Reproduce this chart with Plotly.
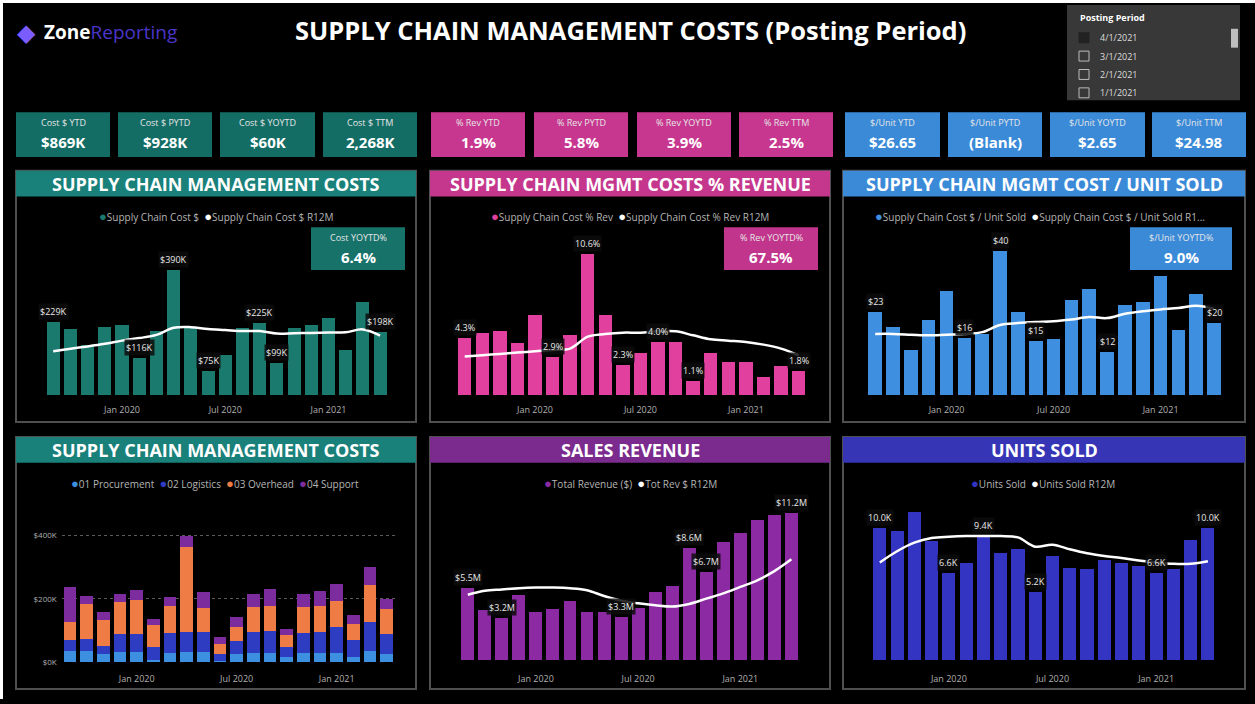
import plotly.graph_objects as go

W, H = 1255, 704

# ---------------- data ----------------
months = ["Sep 2019", "Oct 2019", "Nov 2019", "Dec 2019", "Jan 2020", "Feb 2020", "Mar 2020",
          "Apr 2020", "May 2020", "Jun 2020", "Jul 2020", "Aug 2020", "Sep 2020", "Oct 2020",
          "Nov 2020", "Dec 2020", "Jan 2021", "Feb 2021", "Mar 2021", "Apr 2021"]
tick_months = ["Jan 2020", "Jul 2020", "Jan 2021"]

cost_k = [229, 205, 155, 212, 218, 116, 200, 390, 212, 75, 125, 208, 225, 99, 208, 220, 240, 142, 290, 198]
cost_r12m_k = [137, 145, 152, 160, 170, 178, 188, 210, 212, 206, 203, 200, 200, 192, 193, 194, 195, 196, 205, 186]
cost_label_idx = [0, 5, 7, 9, 12, 13, 19]

pct_rev = [4.3, 4.7, 4.8, 3.9, 6.0, 2.9, 4.5, 10.6, 6.0, 2.3, 3.2, 4.0, 4.0, 1.1, 3.2, 2.5, 2.5, 1.4, 2.2, 1.8]
pct_rev_r12m = [2.9, 3.0, 3.1, 3.2, 3.3, 3.4, 3.5, 4.4, 4.6, 4.7, 4.7, 4.8, 4.8, 4.5, 4.2, 4.1, 4.0, 3.8, 3.5, 3.0]
pct_label_idx = [0, 5, 7, 9, 11, 13, 19]

cost_per_unit = [23, 19, 12.4, 20.8, 29, 16, 17, 40, 23, 15, 15.6, 26.5, 29.5, 12, 25, 26, 33, 18, 28, 20]
cost_per_unit_r12m = [17.0, 17.0, 16.8, 16.6, 16.8, 17.0, 17.5, 19.5, 20.0, 20.3, 20.5, 21.0, 21.7, 21.4,
                      22.6, 23.3, 23.8, 24.2, 24.8, 24.0]
cpu_label_idx = [0, 5, 7, 9, 13, 19]

procurement_k = [37, 37, 26, 32, 32, 8, 28, 32, 32, 5, 26, 28, 28, 16, 28, 28, 28, 16, 37, 26]
logistics_k = [32, 37, 26, 58, 58, 40, 63, 63, 63, 21, 42, 66, 71, 32, 63, 66, 82, 53, 90, 63]
overhead_k = [58, 110, 81, 100, 105, 68, 87, 268, 77, 32, 42, 79, 79, 37, 82, 84, 82, 53, 116, 79]
support_k = [111, 26, 24, 26, 32, 21, 26, 34, 50, 23, 32, 42, 53, 21, 42, 47, 55, 26, 56, 32]
stack_names = ["01 Procurement", "02 Logistics", "03 Overhead", "04 Support"]

revenue_m = [5.5, 3.8, 3.2, 5.0, 3.7, 3.9, 4.5, 3.7, 3.7, 3.3, 4.0, 5.2, 5.7, 8.6, 6.7, 9.0, 9.7, 10.7, 11.1, 11.2]
revenue_r12m_m = [5.0, 5.3, 5.4, 5.5, 5.55, 5.55, 5.5, 5.35, 4.9, 4.55, 4.35, 4.2, 4.1, 4.3, 4.7, 5.1,
                  5.6, 6.1, 6.8, 7.7]
rev_label_idx = [0, 2, 9, 13, 14, 19]

units_k = [10.0, 9.75, 11.25, 9.0, 6.6, 7.4, 9.4, 8.1, 8.4, 5.2, 7.9, 7.0, 6.9, 7.6, 7.4, 7.1, 6.6, 6.9, 9.1, 10.0]
units_r12m_k = [7.4, 8.25, 8.9, 9.25, 9.35, 9.4, 9.4, 9.4, 9.3, 8.6, 8.75, 8.4, 8.1, 7.9, 7.75, 7.55,
                7.4, 7.3, 7.3, 7.5]
units_label_idx = [0, 4, 6, 9, 16, 19]

kpi_teal = [("Cost $ YTD", "$869K"), ("Cost $ PYTD", "$928K"), ("Cost $ YOYTD", "$60K"), ("Cost $ TTM", "2,268K")]
kpi_pink = [("% Rev YTD", "1.9%"), ("% Rev PYTD", "5.8%"), ("% Rev YOYTD", "3.9%"), ("% Rev TTM", "2.5%")]
kpi_blue = [("$/Unit YTD", "$26.65"), ("$/Unit PYTD", "(Blank)"), ("$/Unit YOYTD", "$2.65"), ("$/Unit TTM", "$24.98")]
slicer_items = ["4/1/2021", "3/1/2021", "2/1/2021", "1/1/2021"]

# ---------------- styles ----------------
FONT = "Open Sans"
TEAL_HDR, TEAL_BAR, TEAL_CARD = "#19807a", "#1b7a6e", "#146d65"
PINK_HDR, PINK_BAR, PINK_CARD = "#c4378d", "#e2409e", "#c8378f"
BLUE_HDR, BLUE_BAR, BLUE_CARD = "#3b8ad8", "#3f8fe0", "#3a8ad8"
PURP_HDR, PURP_BAR = "#7b2a8e", "#8b2aa3"
DBLU_HDR, DBLU_BAR = "#3535b5", "#3434c2"
STACK_COLORS = ["#3d8fe0", "#2d3cc0", "#f07c45", "#7c2c9c"]


def fx(x):
    return x / W


def fy(y):
    return 1 - y / H


shapes = []
ann = []


def rect(x0, y0, x1, y1, fill="rgba(0,0,0,0)", line=None, lw=0):
    shapes.append(dict(type="rect", xref="paper", yref="paper", x0=fx(x0), x1=fx(x1), y0=fy(y1), y1=fy(y0),
                       fillcolor=fill, line=dict(color=line or "rgba(0,0,0,0)", width=lw), layer="below"))


def text(x, y, t, size=10, color="white", bold=False, xa="center", ya="middle", **kw):
    if bold:
        t = "<b>" + t + "</b>"
    ann.append(dict(xref="paper", yref="paper", x=fx(x), y=fy(y), text=t, showarrow=False,
                    xanchor=xa, yanchor=ya, font=dict(family=FONT, size=size, color=color), **kw))


# thin white frame at top/left
rect(0, 0, W, 3, fill="white")
rect(0, 0, 3, H, fill="white")

# logo
text(26, 32, "◆", size=24, color="#7b5cff")
text(42, 32, "<b>Zone</b><span style='color:#4b35c8'>Reporting</span>", size=19, xa="left")

# title
text(630, 30, "SUPPLY CHAIN MANAGEMENT COSTS (Posting Period)", size=25.5, bold=True)

# slicer
rect(1067, 5, 1240, 101, fill="#383838")
text(1078, 18, "Posting Period", size=9, bold=True, xa="left")
for i, s in enumerate(slicer_items):
    yy = 38 + i * 18.5
    rect(1079, yy - 5, 1089, yy + 5, fill="#222222" if i == 0 else "rgba(0,0,0,0)", line="#bbbbbb" if i else "#222222", lw=1)
    text(1098, yy, s, size=9, color="#dddddd", xa="left")
rect(1231, 29, 1238, 48, fill="#bfbfbf")

# KPI cards
def cards(xs, items, fill):
    for (x0, x1), (lab, val) in zip(xs, items):
        rect(x0, 113, x1, 158, fill=fill)
        text((x0 + x1) / 2, 123, lab, size=9, color="#e6e6e6")
        text((x0 + x1) / 2, 143, val, size=15, bold=True)


cards([(16, 110), (118, 212), (220, 315), (323, 417)], kpi_teal, TEAL_CARD)
cards([(431, 525), (534, 628), (637, 731), (739, 833)], kpi_pink, PINK_CARD)
cards([(845, 940), (948, 1042), (1050, 1145), (1152, 1246)], kpi_blue, BLUE_CARD)

# panels
panels = [
    (16, 416, 172, 425, TEAL_HDR, "SUPPLY CHAIN MANAGEMENT COSTS"),
    (430, 830, 172, 425, PINK_HDR, "SUPPLY CHAIN MGMT COSTS % REVENUE"),
    (843, 1245, 172, 425, BLUE_HDR, "SUPPLY CHAIN MGMT COST / UNIT SOLD"),
    (16, 416, 440, 694, TEAL_HDR, "SUPPLY CHAIN MANAGEMENT COSTS"),
    (430, 830, 440, 694, PURP_HDR, "SALES REVENUE"),
    (843, 1245, 440, 694, DBLU_HDR, "UNITS SOLD"),
]
for x0, x1, y0, y1, col, title in panels:
    rect(x0, y0, x1, y1, line="#4f4f4f", lw=2)
    rect(x0, y0, x1, y0 + 26, fill=col)
    text((x0 + x1) / 2, y0 + 13, title, size=18, bold=True)


def dot(c):
    return "<span style='color:%s;font-size:13px'>●</span>" % c


def legend(x, y, items):
    parts = [dot(c) + n for c, n in items]
    text(x, y, "  ".join(parts), size=10, color="#b5b5b5")


legend(216, 218, [(TEAL_BAR, "Supply Chain Cost $"), ("white", "Supply Chain Cost $ R12M")])
legend(630, 218, [(PINK_BAR, "Supply Chain Cost % Rev"), ("white", "Supply Chain Cost % Rev R12M")])
legend(1040, 218, [(BLUE_BAR, "Supply Chain Cost $ / Unit Sold"), ("white", "Supply Chain Cost $ / Unit Sold R1...")])
legend(215, 486, list(zip(STACK_COLORS, stack_names)))
legend(630, 486, [(PURP_BAR, "Total Revenue ($)"), ("white", "Tot Rev $ R12M")])
legend(1043, 486, [(DBLU_BAR, "Units Sold"), ("white", "Units Sold R12M")])

# in-chart KPI boxes
for x0, x1, col, lab, val in [(311, 405, "#17726a", "Cost YOYTD%", "6.4%"),
                              (724, 818, "#c2358c", "% Rev YOYTD%", "67.5%"),
                              (1130, 1232, "#3a8ad8", "$/Unit YOYTD%", "9.0%")]:
    rect(x0, 229, x1, 272, fill=col)
    text((x0 + x1) / 2, 239, lab, size=9, color="#e6e6e6")
    text((x0 + x1) / 2, 259, val, size=15, bold=True)

# ---------------- charts ----------------
fig = go.Figure()

# (x0, x1, ybottom, ytop, ymax, tick standoff)
charts = {
    1: (37.7, 395.6, 398, 230, 520, 8),
    2: (452.7, 810.6, 398, 230, 12.54, 8),
    3: (865.7, 1223.6, 398, 230, 46.3, 8),
    4: (61.7, 395.0, 667, 500, 522, 10),
    5: (452.8, 808.9, 665, 500, 12.5, 12),
    6: (865.8, 1221.9, 665, 500, 12.4, 12),
}
layout_axes = {}
for i, (x0, x1, yb, yt, ymax, so) in charts.items():
    xn = "xaxis" if i == 1 else "xaxis%d" % i
    yn = "yaxis" if i == 1 else "yaxis%d" % i
    layout_axes[xn] = dict(domain=[fx(x0), fx(x1)], anchor="y" if i == 1 else "y%d" % i, type="category",
                           categoryorder="array", categoryarray=months, tickmode="array", tickvals=tick_months,
                           ticktext=tick_months, showgrid=False, showline=False, zeroline=False, ticks="",
                           ticklabelstandoff=so,
                           tickfont=dict(family=FONT, size=9, color="#b0b0b0"), fixedrange=True)
    layout_axes[yn] = dict(domain=[fy(yb), fy(yt)], anchor="x" if i == 1 else "x%d" % i, range=[0, ymax],
                           visible=False, showgrid=False, zeroline=False, fixedrange=True)

layout_axes["yaxis4"].update(visible=True, tickmode="array", tickvals=[0, 200, 400],
                             ticktext=["$0K", "$200K", "$400K"], showgrid=True, gridcolor="#5a5a5a",
                             griddash="dot", gridwidth=1, tickfont=dict(family=FONT, size=8, color="#b0b0b0"),
                             showline=False, ticks="", ticklabelstandoff=4)


def ax(i):
    return ("x" if i == 1 else "x%d" % i), ("y" if i == 1 else "y%d" % i)


def bar_line(i, bars, line, color):
    xa, ya = ax(i)
    fig.add_trace(go.Bar(x=months, y=bars, marker=dict(color=color, line=dict(width=0)), xaxis=xa, yaxis=ya,
                         showlegend=False, hoverinfo="skip"))
    fig.add_trace(go.Scatter(x=months, y=line, mode="lines", line=dict(color="white", width=2.5, shape="spline"),
                             xaxis=xa, yaxis=ya, showlegend=False, hoverinfo="skip"))


def labels(i, vals, idx, fmt):
    xa, ya = ax(i)
    for k in idx:
        ann.append(dict(xref=xa, yref=ya, x=months[k], y=vals[k], text=fmt(vals[k]), showarrow=False,
                        yanchor="bottom", yshift=2, bgcolor="rgba(12,12,12,0.85)", borderpad=1,
                        font=dict(family=FONT, size=9, color="#e8e8e8")))


bar_line(1, cost_k, cost_r12m_k, TEAL_BAR)
labels(1, cost_k, cost_label_idx, lambda v: "$%dK" % v)
bar_line(2, pct_rev, pct_rev_r12m, PINK_BAR)
labels(2, pct_rev, pct_label_idx, lambda v: "%.1f%%" % v)
bar_line(3, cost_per_unit, cost_per_unit_r12m, BLUE_BAR)
labels(3, cost_per_unit, cpu_label_idx, lambda v: "$%d" % round(v))

for vals, name, col in zip([procurement_k, logistics_k, overhead_k, support_k], stack_names, STACK_COLORS):
    fig.add_trace(go.Bar(x=months, y=vals, name=name, marker=dict(color=col, line=dict(width=0)),
                         xaxis="x4", yaxis="y4", showlegend=False, hoverinfo="skip"))

bar_line(5, revenue_m, revenue_r12m_m, PURP_BAR)
labels(5, revenue_m, rev_label_idx, lambda v: "$%.1fM" % v)
bar_line(6, units_k, units_r12m_k, DBLU_BAR)
labels(6, units_k, units_label_idx, lambda v: "%.1fK" % v)

fig.update_layout(width=W, height=H, margin=dict(l=0, r=0, t=0, b=0), paper_bgcolor="black",
                  plot_bgcolor="rgba(0,0,0,0)", barmode="stack", bargap=0.24, shapes=shapes, annotations=ann,
                  font=dict(family=FONT, color="white"), showlegend=False, **layout_axes)

fig.write_html("out.html", config=dict(displayModeBar=False),
               post_script="document.body.style.margin='0';document.body.style.overflow='hidden';")
